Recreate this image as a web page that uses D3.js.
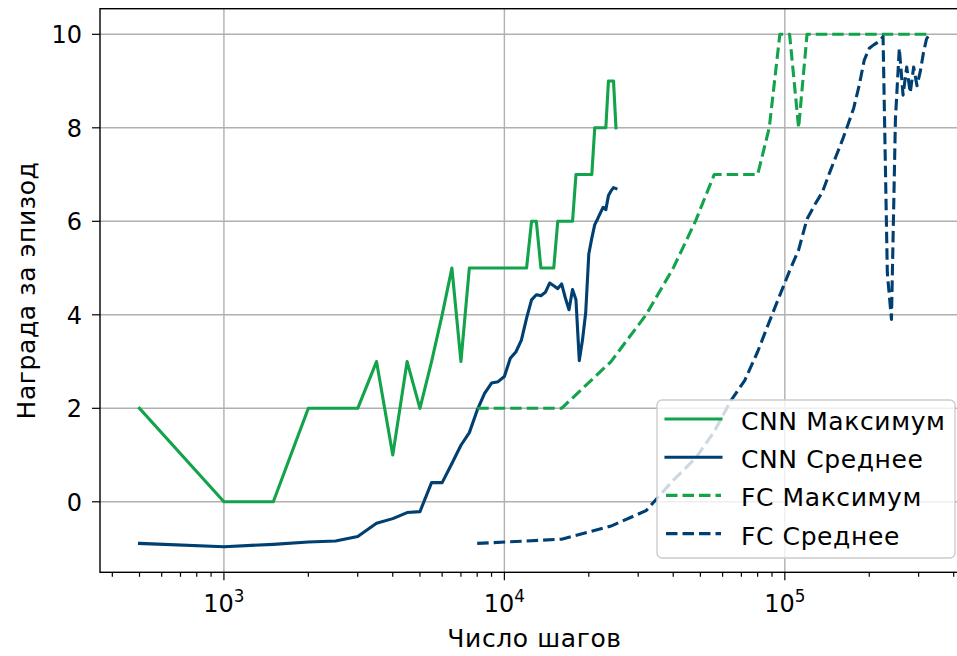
<!DOCTYPE html>
<html>
<head>
<meta charset="utf-8">
<script src="https://cdn.jsdelivr.net/npm/d3@7"></script>
<style>
  html, body { margin: 0; padding: 0; background: #fff; }
  svg { display: block; font-family: "DejaVu Sans", sans-serif; }
</style>
</head>
<body>
<div id="chart"></div>
<script>
// Training steps for the convolutional agent (evaluated every 500 steps)
const cnnSteps = [500, 1000, 1500, 2000, 2500, 3000, 3500, 4000, 4500, 5000,
  5500, 6000, 6500, 7000, 7500, 8000, 8500, 9000, 9500, 10000,
  10500, 11000, 11500, 12000, 12500, 13000, 13500, 14000, 14500, 15000,
  15500, 16000, 16500, 17000, 17500, 18000, 18500, 19000, 19500, 20000,
  20500, 21000, 21500, 22000, 22500, 23000, 23500, 24000, 24500, 25000];
const cnnMax = [2, 0, 0, 2, 2, 2, 3, 1, 3, 2,
  3, 4, 5, 3, 5, 5, 5, 5, 5, 5,
  5, 5, 5, 5, 6, 6, 5, 5, 5, 5,
  6, 6, 6, 6, 6, 7, 7, 7, 7, 7,
  7, 8, 8, 8, 8, 8, 9, 9, 9, 8];
const cnnMean = [-0.89, -0.96, -0.91, -0.86, -0.84, -0.74, -0.46, -0.36, -0.23, -0.21,
  0.41, 0.41, 0.82, 1.21, 1.48, 1.96, 2.32, 2.54, 2.57, 2.68,
  3.07, 3.21, 3.46, 3.93, 4.32, 4.43, 4.41, 4.48, 4.68, 4.62,
  4.56, 4.66, 4.36, 4.11, 4.54, 4.32, 3.02, 3.47, 4.05, 5.3,
  5.64, 5.93, 6.05, 6.18, 6.3, 6.25, 6.55, 6.65, 6.72, 6.7];

// Training steps for the fully connected agent (evaluated every 8000 steps)
const fcSteps = [8000, 16000, 24000, 32000, 40000, 48000, 56000, 64000, 72000, 80000,
  88000, 96000, 104000, 112000, 120000, 128000, 136000, 144000, 152000, 160000,
  168000, 176000, 184000, 192000, 200000, 208000, 216000, 224000, 232000, 240000,
  248000, 256000, 264000, 272000, 280000, 288000, 296000, 304000, 312000, 320000, 328000];
const fcMax = [2, 2, 3, 4, 5, 6, 7, 7, 7, 7,
  8, 10, 10, 8, 10, 10, 10, 10, 10, 10,
  10, 10, 10, 10, 10, 10, 10, 10, 10, 10,
  10, 10, 10, 10, 10, 10, 10, 10, 10, 10, 10];
const fcMean = [-0.89, -0.8, -0.52, -0.19, 0.46, 0.93, 1.5, 2.15, 2.6, 3.21,
  3.85, 4.42, 4.94, 5.39, 6.05, 6.36, 6.62, 7.02, 7.38, 7.72,
  8.07, 8.42, 8.9, 9.45, 9.7, 9.78, 9.84, 9.95, 4.9, 3.9,
  8.2, 9.7, 8.7, 9.3, 8.75, 9.3, 8.9, 9.2, 9.6, 9.9, 10];

const yTickValues = [0, 2, 4, 6, 8, 10];
const xMajorExponents = [3, 4, 5];

const seriesNames = ["CNN Максимум", "CNN Среднее", "FC Максимум", "FC Среднее"];
const green = "#12a34b";
const navy = "#003f72";

const series = [
  { name: seriesNames[0], xs: cnnSteps, ys: cnnMax, color: green, dashed: false },
  { name: seriesNames[1], xs: cnnSteps, ys: cnnMean, color: navy, dashed: false },
  { name: seriesNames[2], xs: fcSteps, ys: fcMax, color: green, dashed: true },
  { name: seriesNames[3], xs: fcSteps, ys: fcMean, color: navy, dashed: true }
];

const W = 957, H = 656;
const plot = { left: 100, right: 969, top: 8.7, bottom: 572.3 };
const tickFont = 24;
const labelFont = 25;
const labelSpacing = 0.6;
const lineW = 3.1;
const dashPattern = "11.5,5";

// Axis limits with 5% padding (log-space on x)
const allX = cnnSteps.concat(fcSteps);
const allY = cnnMax.concat(cnnMean, fcMax, fcMean);
const lx0 = Math.log10(d3.min(allX)), lx1 = Math.log10(d3.max(allX));
const padX = (lx1 - lx0) * 0.05;
const y0 = d3.min(allY), y1 = d3.max(allY);
const padY = (y1 - y0) * 0.05;

const x = d3.scaleLog()
  .domain([Math.pow(10, lx0 - padX), Math.pow(10, lx1 + padX)])
  .range([plot.left, plot.right]);
const y = d3.scaleLinear()
  .domain([y0 - padY, y1 + padY])
  .range([plot.bottom, plot.top]);

const svg = d3.select("#chart").append("svg")
  .attr("width", W).attr("height", H)
  .attr("viewBox", `0 0 ${W} ${H}`);

svg.append("rect").attr("width", W).attr("height", H).attr("fill", "#fff");

svg.append("defs").append("clipPath").attr("id", "plotClip")
  .append("rect")
  .attr("x", plot.left).attr("y", plot.top)
  .attr("width", plot.right - plot.left).attr("height", plot.bottom - plot.top);

// Grid
const grid = svg.append("g").attr("stroke", "#b0b0b0").attr("stroke-width", 1.4);
xMajorExponents.forEach(e => {
  const px = x(Math.pow(10, e));
  grid.append("line").attr("x1", px).attr("x2", px)
    .attr("y1", plot.top).attr("y2", plot.bottom);
});
yTickValues.forEach(v => {
  grid.append("line").attr("x1", plot.left).attr("x2", plot.right)
    .attr("y1", y(v)).attr("y2", y(v));
});

// Data lines
const lineGen = (s) => d3.line()
  .x((d, i) => x(s.xs[i]))
  .y(d => y(d))(s.ys);

const linesG = svg.append("g").attr("clip-path", "url(#plotClip)");
series.forEach(s => {
  linesG.append("path")
    .attr("d", lineGen(s))
    .attr("fill", "none")
    .attr("stroke", s.color)
    .attr("stroke-width", lineW)
    .attr("stroke-linejoin", "round")
    .attr("stroke-linecap", s.dashed ? "butt" : "square")
    .attr("stroke-dasharray", s.dashed ? dashPattern : null);
});

// Spines
const spines = svg.append("g").attr("stroke", "#000").attr("stroke-width", 1.4).attr("fill", "none");
spines.append("rect")
  .attr("x", plot.left).attr("y", plot.top)
  .attr("width", plot.right - plot.left).attr("height", plot.bottom - plot.top);

// X ticks (major + log minor)
const xt = svg.append("g").attr("stroke", "#000").attr("stroke-width", 1.2);
x.ticks().forEach(t => {
  const px = x(t);
  if (px < plot.left - 0.5 || px > plot.right + 0.5) return;
  const isMajor = Math.abs(Math.log10(t) - Math.round(Math.log10(t))) < 1e-9;
  xt.append("line").attr("x1", px).attr("x2", px)
    .attr("y1", plot.bottom).attr("y2", plot.bottom + (isMajor ? 8 : 4.5));
});
xMajorExponents.forEach(e => {
  const txt = svg.append("text")
    .attr("x", x(Math.pow(10, e)))
    .attr("y", 612)
    .attr("text-anchor", "middle")
    .attr("font-size", tickFont)
    .attr("fill", "#000");
  txt.append("tspan").text("10");
  txt.append("tspan").attr("dy", -10).attr("font-size", tickFont * 0.7).text(String(e));
});

// Y ticks
const yt = svg.append("g");
yTickValues.forEach(v => {
  yt.append("line").attr("x1", plot.left - 8).attr("x2", plot.left)
    .attr("y1", y(v)).attr("y2", y(v))
    .attr("stroke", "#000").attr("stroke-width", 1.2);
  yt.append("text")
    .attr("x", plot.left - 18).attr("y", y(v) + 8.7)
    .attr("text-anchor", "end")
    .attr("font-size", tickFont)
    .attr("fill", "#000")
    .text(v);
});

// Axis labels
svg.append("text")
  .attr("x", (plot.left + plot.right) / 2).attr("y", 647)
  .attr("text-anchor", "middle").attr("font-size", labelFont)
  .attr("letter-spacing", labelSpacing)
  .text("Число шагов");
svg.append("text")
  .attr("transform", `translate(35,${(plot.top + plot.bottom) / 2}) rotate(-90)`)
  .attr("text-anchor", "middle").attr("font-size", labelFont)
  .attr("letter-spacing", labelSpacing)
  .text("Награда за эпизод");

// Legend
const leg = { x: 657, y: 400, w: 298, h: 158, row0: 419, rowStep: 38.2 };
const lg = svg.append("g");
lg.append("rect")
  .attr("x", leg.x).attr("y", leg.y).attr("width", leg.w).attr("height", leg.h)
  .attr("rx", 5).attr("ry", 5)
  .attr("fill", "#fff").attr("fill-opacity", 0.8)
  .attr("stroke", "#cccccc").attr("stroke-width", 1.4);
series.forEach((s, i) => {
  const ry = leg.row0 + i * leg.rowStep;
  lg.append("line")
    .attr("x1", 666).attr("x2", 721).attr("y1", ry).attr("y2", ry)
    .attr("stroke", s.color).attr("stroke-width", lineW)
    .attr("stroke-linecap", s.dashed ? "butt" : "square")
    .attr("stroke-dasharray", s.dashed ? dashPattern : null);
  lg.append("text")
    .attr("x", 741).attr("y", ry + 11)
    .attr("font-size", labelFont).attr("fill", "#000")
    .attr("letter-spacing", labelSpacing)
    .text(s.name);
});
</script>
</body>
</html>
